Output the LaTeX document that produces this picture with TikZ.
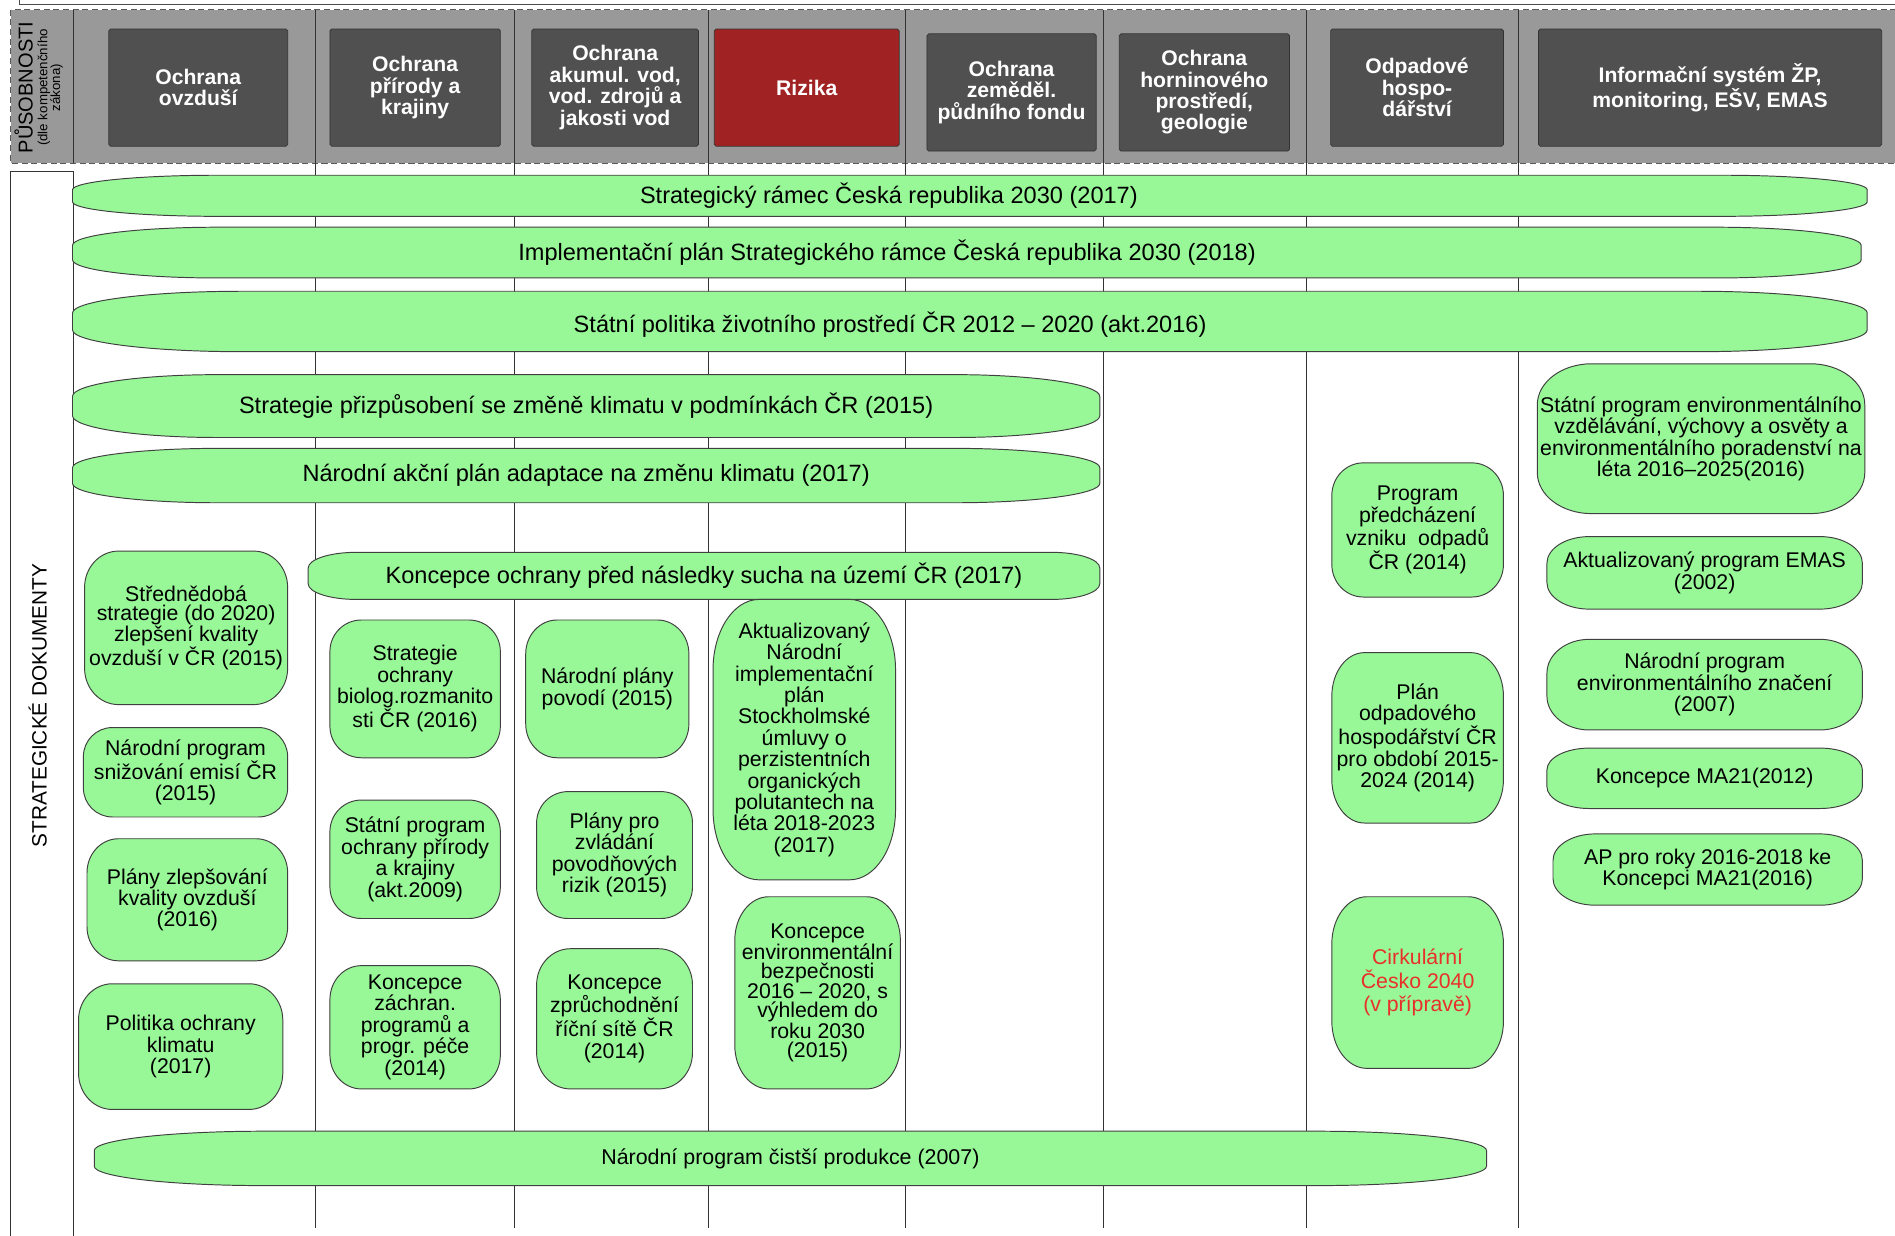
\documentclass[tikz,border=0pt]{standalone}
\usepackage{fontspec}
\setmainfont{Liberation Sans}
\definecolor{pgreen}{RGB}{152,248,152}
\definecolor{hband}{RGB}{153,153,153}
\definecolor{hdark}{RGB}{80,80,80}
\definecolor{hred}{RGB}{160,34,34}
\definecolor{cred}{RGB}{232,48,40}
\newcommand\fsz[2]{\fontsize{#1pt}{#2pt}\selectfont}
% #1 name, #2 x1, #3 y1, #4 x2, #5 y2, #6 rx, #7 ry, #8 node options, #9 text
\newcommand\gbox[9]{%
  \filldraw[gline] ({#2+#6},#3) -- ({#4-#6},#3)
    arc[start angle=90,end angle=0,x radius=#6pt,y radius=#7pt]
    -- (#4,{#5-#7})
    arc[start angle=0,end angle=-90,x radius=#6pt,y radius=#7pt]
    -- ({#2+#6},#5)
    arc[start angle=-90,end angle=-180,x radius=#6pt,y radius=#7pt]
    -- (#2,{#3+#7})
    arc[start angle=180,end angle=90,x radius=#6pt,y radius=#7pt] -- cycle;
  \node[gtext,#8] (#1) at ({(#2+#4)/2},{(#3+#5)/2}) {#9};}
\begin{document}
\begin{tikzpicture}[x=1pt,y=-1pt,
  gline/.style={fill=pgreen, draw=black!75, line width=0.8pt},
  gtext/.style={inner sep=0pt, align=center, font=\fsz{17.6}{17.7}, text=black},
  etext/.style={font=\fsz{19.5}{22}},
  hbox/.style={fill=hdark, draw=black!80, line width=0.6pt, rounded corners=1.5pt,
    text=white, align=center, font=\bfseries\fsz{17.5}{17.7}, inner sep=0pt,
    minimum height=97pt},
  gridline/.style={draw=black!80, line width=0.7pt}]
\useasboundingbox (0,0) rectangle (1568,1022);
% remnant of a frame above
\draw[black!70, line width=0.7pt] (16,-20) rectangle (1590,3.5);
% header band
\filldraw[fill=hband, draw=black!65, dash pattern=on 5pt off 3pt, line width=0.8pt] (9,8) rectangle (1590,135);
% column lines
\foreach \x in {261,426,586,749,913,1081,1256} \draw[gridline] (\x,8) -- (\x,1016);
\draw[gridline] (61,8) -- (61,135);
\draw[gridline] (9,1030) -- (9,142) -- (61,142) -- (61,1030);
% left labels
\node[rotate=90, anchor=base, inner sep=0pt, font=\fsz{16.6}{17}] (pus) at (27,72.4) {PŮSOBNOSTI};
\node[rotate=90, inner sep=0pt, align=center, font=\fsz{11}{10.5}] (pussub) at (41.5,72.4) {(dle kompetenčního\\zákona)};
\node[rotate=90, anchor=base, inner sep=0pt, font=\fsz{17.2}{18}] (strat) at (38.6,583.8) {STRATEGICKÉ DOKUMENTY};
% header boxes
\node[hbox, minimum width=148pt] (h1) at (164,72.5) {Ochrana\\ovzduší};
\node[hbox, minimum width=141pt] (h2) at (343.5,72.5) {Ochrana\\přírody a\\krajiny};
\node[hbox, minimum width=138pt] (h3) at (509,72.5) {Ochrana\\akumul. vod,\\vod. zdrojů a\\jakosti vod};
\node[hbox, minimum width=153pt, fill=hred] (h4) at (667.5,72.5) {Rizika};
\node[hbox, minimum width=140pt] (h5) at (837,76.5) {Ochrana\\zeměděl.\\půdního fondu};
\node[hbox, minimum width=141pt] (h6) at (996.5,76.5) {Ochrana\\horninového\\prostředí,\\geologie};
\node[hbox, minimum width=143pt] (h7) at (1172.5,72.5) {Odpadové\\hospo-\\dářství};
\node[hbox, minimum width=284pt] (h8) at (1415,72.5) {Informační systém ŽP,\\monitoring, EŠV, EMAS};
% long bands
\gbox{e1}{60}{145}{1545}{179}{120}{12}{etext,xshift=-67pt}{Strategický rámec Česká republika 2030 (2017)}
\gbox{e2}{60}{188}{1540}{230}{120}{15}{etext,xshift=-66pt}{Implementační plán Strategického rámce Česká republika 2030 (2018)}
\gbox{e3}{60}{241}{1545}{291}{140}{18}{etext,xshift=-66pt,yshift=-3pt}{Státní politika životního prostředí ČR 2012 – 2020 (akt.2016)}
\gbox{e4}{60}{310}{910}{362}{120}{18}{etext}{Strategie přizpůsobení se změně klimatu v podmínkách ČR (2015)}
\gbox{e5}{60}{371}{910}{416}{120}{16}{etext}{Národní akční plán adaptace na změnu klimatu (2017)}
\gbox{e6}{255}{457}{910}{496}{40}{13}{etext}{Koncepce ochrany před následky sucha na území ČR (2017)}
\gbox{e7}{78}{936}{1230}{981}{140}{16}{font=\fsz{17.7}{20}}{Národní program čistší produkce (2007)}
% column 1
\gbox{b1}{70}{456}{238}{583}{28}{30}{font=\fsz{17.6}{16}}{Střednědobá\\strategie (do 2020)\\zlepšení kvality\\ovzduší v ČR (2015)}
\gbox{b2}{69}{602}{238}{676}{24}{24}{}{Národní program\\snižování emisí ČR\\(2015)}
\gbox{b3}{72}{694}{238}{795}{26}{28}{}{Plány zlepšování\\kvality ovzduší\\(2016)}
\gbox{b4}{65}{814}{234}{918}{28}{30}{}{Politika ochrany\\klimatu\\(2017)}
% column 2
\gbox{c1}{273}{513}{414}{627}{26}{26}{}{Strategie\\ochrany\\biolog.rozmanito\\sti ČR (2016)}
\gbox{c2}{273}{662}{414}{760}{26}{26}{}{Státní program\\ochrany přírody\\a krajiny\\(akt.2009)}
\gbox{c3}{273}{799}{414}{901}{26}{28}{}{Koncepce\\záchran.\\programů a\\progr. péče\\(2014)}
% column 3
\gbox{d1}{435}{513}{570}{627}{26}{28}{}{Národní plány\\povodí (2015)}
\gbox{d2}{444}{655}{573}{760}{26}{26}{}{Plány pro\\zvládání\\povodňových\\rizik (2015)}
\gbox{d3}{444}{785}{573}{901}{28}{30}{}{Koncepce\\zprůchodnění\\říční sítě ČR\\(2014)}
% column 4
\gbox{f1}{590}{496}{741}{728}{38}{58}{}{Aktualizovaný\\Národní\\implementační\\plán\\Stockholmské\\úmluvy o\\perzistentních\\organických\\polutantech na\\léta 2018-2023\\(2017)}
\gbox{f2}{608}{742}{745}{901}{28}{36}{font=\fsz{17.6}{15.5}}{Koncepce\\environmentální\\bezpečnosti\\2016 – 2020, s\\výhledem do\\roku 2030\\(2015)}
% waste column
\gbox{w1}{1102}{383}{1244}{494}{26}{27}{}{Program\\předcházení\\vzniku\ \ odpadů\\ČR (2014)}
\gbox{w2}{1102}{540}{1244}{681}{27}{36}{}{Plán\\odpadového\\hospodářství ČR\\pro období 2015-\\2024 (2014)}
\gbox{w3}{1102}{742}{1244}{884}{29}{39}{text=cred,font=\fsz{17.6}{19.5}}{Cirkulární\\Česko 2040\\(v přípravě)}
% information column
\gbox{r1}{1272}{301}{1543}{425}{45}{34}{}{Státní program environmentálního\\vzdělávání, výchovy a osvěty a\\environmentálního poradenství na\\léta 2016–2025(2016)}
\gbox{r2}{1280}{444}{1541}{504}{35}{22}{}{Aktualizovaný program EMAS\\(2002)}
\gbox{r3}{1280}{529}{1541}{604}{35}{28}{}{Národní program\\environmentálního značení\\(2007)}
\gbox{r4}{1280}{619}{1541}{669}{35}{18}{}{Koncepce MA21(2012)}
\gbox{r5}{1285}{690}{1541}{749}{35}{22}{}{AP pro roky 2016-2018 ke\\Koncepci MA21(2016)}
\end{tikzpicture}
\end{document}
